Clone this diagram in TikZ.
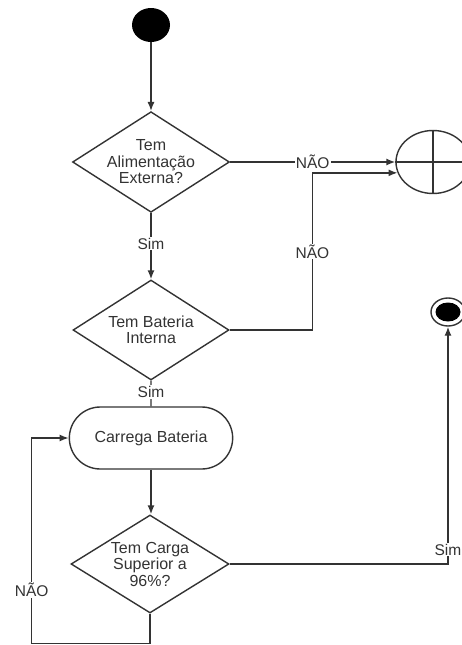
\documentclass[tikz,border=0pt]{standalone}
\usepackage{fontspec}
\setmainfont{Liberation Sans}
\usetikzlibrary{shapes.geometric,shapes.misc,arrows.meta}
\definecolor{ink}{HTML}{333333}
\begin{document}
\begin{tikzpicture}[x=1pt,y=-1pt,
  every node/.style={text=ink, font=\fontsize{16}{16.5}\selectfont},
  flow/.style={draw=ink, line width=1.4pt},
  arr/.style={flow, -{Latex[length=9pt,width=7pt]}},
  decision/.style={diamond, draw=ink, line width=1.4pt, minimum width=156pt,
    minimum height=100pt, inner sep=0pt, aspect=1.56, align=center},
  action/.style={rounded rectangle, draw=ink, line width=1.4pt,
    minimum width=170pt, minimum height=62pt},
  lbl/.style={fill=white, inner sep=1pt, font=\fontsize{15.5}{16}\selectfont}
]
\useasboundingbox (0,0) rectangle (462,645);
\clip (0,0) rectangle (462,645);

% start and end markers
\node[ellipse, fill=black, minimum width=38pt, minimum height=34pt, inner sep=0pt] (start) at (151,25) {};
\node[ellipse, draw=ink, line width=1.4pt, minimum width=74pt, minimum height=63pt, inner sep=0pt] (xc) at (433,162) {};
\draw[flow] (xc.north) -- (xc.south) (xc.west) -- (xc.east);
\node[ellipse, draw=ink, line width=1.4pt, minimum width=34pt, minimum height=28pt, inner sep=0pt] (fin) at (448,312) {};
\node[ellipse, fill=black, minimum width=25pt, minimum height=19pt, inner sep=0pt] (fincore) at (fin.center) {};

% decisions and action
\node[decision] (d1) at (151,162) {Tem\\Alimentação\\Externa?};
\node[decision] (d2) at (151,330) {Tem Bateria\\Interna};
\node[action] (cb) at (151,438) {Carrega Bateria};
\node[decision, minimum width=158pt, minimum height=98pt] (d3) at (150,564) {Tem Carga\\Superior a\\96\%?};

% connectors
\draw[arr] (start) -- (d1);
\draw[arr] (d1.east) -- node[lbl, pos=0.5] {NÃO} (xc.west);
\draw[arr] (d1) -- node[lbl, pos=0.46] {Sim} (d2);
\draw[arr] (d2.east) -| node[lbl, pos=0.75] {NÃO} ([xshift=-85pt]xc.197) -- (xc.197);
\draw[flow] (d2) -- node[lbl, pos=0.44] {Sim} (cb);
\draw[arr] (cb.south) -- (cb.south |- d3.north);
\draw[arr] (d3.south) -- ++(0,30) -| node[lbl, pos=0.63] {NÃO} ([xshift=-37pt]cb.west) -- (cb.west);
\draw[arr] (d3.east) -| node[lbl, pos=0.53] {Sim} (fin.south);
\end{tikzpicture}
\end{document}
